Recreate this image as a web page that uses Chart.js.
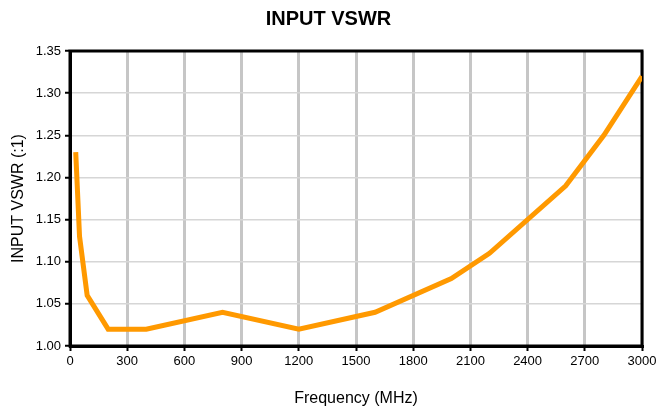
<!DOCTYPE html>
<html>
<head>
<meta charset="utf-8">
<script src="https://cdn.jsdelivr.net/npm/chart.js@4.4.0/dist/chart.umd.min.js"></script>
<style>
  body { margin: 0; background: #fff; }
  #mycanvas { display: block; }
</style>
</head>
<body>
<canvas id="mycanvas" width="657" height="410"></canvas>
<script>
// frequency points (MHz) and measured VSWR
var freq = [30, 50, 90, 200, 400, 800, 1200, 1600, 2000, 2200, 2600, 2800, 3000];
var vswr = [1.23, 1.13, 1.06, 1.02, 1.02, 1.04, 1.02, 1.04, 1.08, 1.11, 1.19, 1.25, 1.32];
var xTicks = [0, 300, 600, 900, 1200, 1500, 1800, 2100, 2400, 2700, 3000];
var yTicks = [1.00, 1.05, 1.10, 1.15, 1.20, 1.25, 1.30, 1.35];

var points = [];
for (var i in freq) {
  points.push({x: freq[i], y: vswr[i]});
}

// black frame round the plot area
var frame = {
  id: 'frame',
  beforeDatasetsDraw: function(chart) {
    var a = chart.chartArea, ctx = chart.ctx;
    ctx.save();
    ctx.strokeStyle = '#000';
    ctx.lineWidth = 3;
    ctx.strokeRect(a.left, a.top, a.right - a.left, a.bottom - a.top);
    ctx.restore();
  }
};

var font = "'Liberation Sans', Arial, sans-serif";

new Chart(document.getElementById('mycanvas'), {
  type: 'line',
  data: {
    datasets: [{
      data: points,
      borderColor: '#FF9900',
      borderWidth: 5,
      pointRadius: 0,
      tension: 0,
      fill: false
    }]
  },
  options: {
    responsive: false,
    animation: false,
    layout: { padding: { left: 0, right: 0, top: 0, bottom: 0 } },
    plugins: {
      legend: { display: false },
      tooltip: { enabled: false },
      title: {
        display: true,
        text: 'INPUT VSWR',
        color: '#000',
        font: { family: font, size: 20, weight: 'bold' },
        padding: { top: 7, bottom: 20 }
      }
    },
    scales: {
      x: {
        type: 'linear',
        min: 0,
        max: 3000,
        afterBuildTicks: function(scale) {
          scale.ticks = xTicks.map(function(v) { return {value: v}; });
        },
        afterFit: function(scale) {
          scale.height = 64;
          scale.paddingRight = 15;
          scale.paddingLeft = 0;
        },
        grid: { color: '#c6c6c6', lineWidth: 3, tickColor: '#000', tickLength: 5, tickWidth: 2 },
        border: { color: '#000', width: 3 },
        ticks: {
          color: '#000',
          font: { family: font, size: 13 },
          padding: 3,
          maxRotation: 0,
          callback: function(v) { return String(v); }
        },
        title: {
          display: true,
          text: 'Frequency (MHz)',
          color: '#000',
          font: { family: font, size: 16 },
          padding: { top: 0, bottom: 2 }
        }
      },
      y: {
        type: 'linear',
        min: 1.0,
        max: 1.35,
        afterBuildTicks: function(scale) {
          scale.ticks = yTicks.map(function(v) { return {value: v}; });
        },
        afterFit: function(scale) { scale.width = 70; },
        grid: { color: '#d6d6d6', lineWidth: 1.5, tickColor: '#000', tickLength: 5, tickWidth: 2 },
        border: { color: '#000', width: 3 },
        ticks: {
          color: '#000',
          font: { family: font, size: 13 },
          padding: 4,
          callback: function(v) { return v.toFixed(2); }
        },
        title: {
          display: true,
          text: 'INPUT VSWR (:1)',
          color: '#000',
          font: { family: font, size: 16 },
          padding: { top: 9, bottom: 0 }
        }
      }
    }
  },
  plugins: [frame]
});
</script>
</body>
</html>
